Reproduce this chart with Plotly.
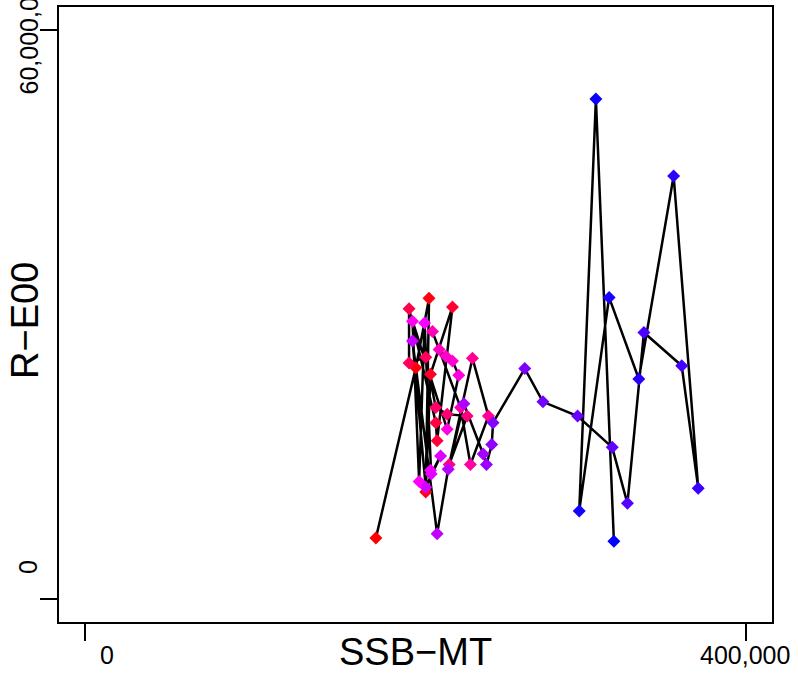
import colorsys
import plotly.graph_objects as go

# Data, in chronological order
ssb = [176000, 200200, 208200, 206200, 209100, 222400, 213100, 212300, 196100, 196100,
       206200, 212300, 219200, 231300, 220400, 234500, 244200, 233300, 227300, 210300,
       214300, 218400, 222400, 226200, 219200, 198200, 202200, 205500, 209100, 209500,
       215200, 206200, 198200, 213100, 219800, 229300, 241000, 243000, 246200, 247000,
       266200, 277200, 298200, 319200, 328400, 338400, 361300, 371300, 356400, 335300,
       317300, 299200, 309300, 320200]
rec = [6450, 24400, 31700, 11300, 23700, 30800, 16700, 18600, 30600, 24900,
       25500, 20200, 19500, 19300, 14200, 25400, 19300, 14200, 20200, 28200,
       26300, 25600, 25100, 23600, 17900, 29300, 12400, 29100, 13600, 13200,
       15100, 11800, 27200, 6900, 13700, 20600, 15300, 14200, 16300, 18600,
       24300, 20800, 19300, 16000, 10100, 28100, 24600, 11700, 44600, 23200,
       31800, 9300, 52700, 6100]

x_ticks = [0, 400000]
x_tick_labels = ["0", "400,000"]
y_ticks = [0, 60000]
y_tick_labels = ["0", "60,000,000"]
x_title = "SSB\u2212MT"
y_title = "R\u2212E00"

n = len(ssb)
colors = []
for i in range(n):
    h = 1.0 - (i / (n - 1)) / 3.0
    r, g, b = colorsys.hsv_to_rgb(h % 1.0, 1, 1)
    colors.append(f"rgb({int(r*255)},{int(g*255)},{int(b*255)})")

W, H = 798, 673
L, R, T, B = 59, 26, 7, 51
PW, PH = W - L - R, H - T - B


def px(xp):
    return (xp - L) / PW


def py(yp):
    return (H - B - yp) / PH


FONT = "Liberation Sans, Arial, Helvetica, sans-serif"

fig = go.Figure()
fig.add_trace(go.Scatter(x=ssb, y=rec, mode="lines",
                         line=dict(color="black", width=2.5),
                         hoverinfo="skip", showlegend=False))
fig.add_trace(go.Scatter(x=ssb, y=rec, mode="markers",
                         marker=dict(symbol="diamond", size=10, color=colors,
                                     line=dict(width=0)),
                         showlegend=False))


def label(text, xp, yp, size, angle=0, yanchor="middle"):
    return dict(text=text, x=px(xp), y=py(yp), xref="paper", yref="paper",
                xanchor="center", yanchor=yanchor, textangle=angle,
                showarrow=False, font=dict(size=size, color="black", family=FONT))


ann = [
    label(x_tick_labels[0], 107, 655, 25),
    label(x_tick_labels[1], 745, 655, 25),
    label(y_tick_labels[0], 28, 567, 25, -90),
    label(y_tick_labels[1], 28, 97, 25, -90, yanchor="bottom"),
    label(x_title, 415, 652, 38),
    label(y_title, 25, 321, 38, -90),
]

fig.update_layout(
    width=W, height=H,
    margin=dict(l=L, r=R, t=T, b=B, autoexpand=False),
    paper_bgcolor="white", plot_bgcolor="white",
    annotations=ann,
    xaxis=dict(range=[-16000, 416000], showgrid=False, zeroline=False,
               showline=True, mirror=True, linecolor="black", linewidth=2,
               ticks="outside", ticklen=17, tickwidth=2, tickcolor="black",
               tickvals=x_ticks, showticklabels=False),
    yaxis=dict(range=[-2400, 62400], showgrid=False, zeroline=False,
               showline=True, mirror=True, linecolor="black", linewidth=2,
               ticks="outside", ticklen=17, tickwidth=2, tickcolor="black",
               tickvals=y_ticks, showticklabels=False),
)

fig.write_html("out.html", config={"displayModeBar": False},
               post_script="document.body.style.margin='0px';document.body.style.padding='0px';")
